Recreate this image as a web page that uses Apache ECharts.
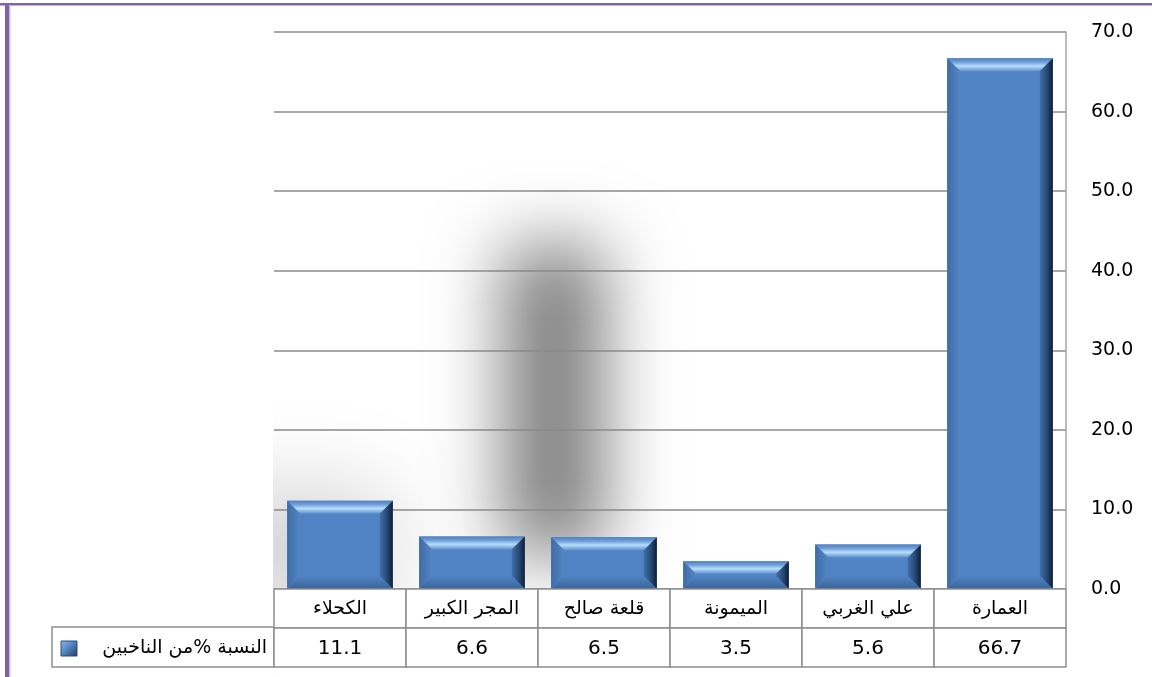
<!DOCTYPE html>
<html>
<head>
<meta charset="utf-8">
<script src="https://cdn.jsdelivr.net/npm/echarts@6/dist/echarts.min.js"></script>
<style>
html,body{margin:0;padding:0;background:#fff;}
#chart{width:1152px;height:677px;}
</style>
</head>
<body>
<div id="chart"></div>
<script>
// Data (displayed left to right)
const categories = ['الكحلاء', 'المجر الكبير', 'قلعة صالح', 'الميمونة', 'علي الغربي', 'العمارة'];
const values = [11.1, 6.6, 6.5, 3.5, 5.6, 66.7];
const seriesName = 'النسبة %من الناخبين';
const yTicks = [0, 10, 20, 30, 40, 50, 60, 70];

const FONT = 'DejaVu Sans';

const tableData = [];
categories.forEach((c, i) => {
  tableData.push([i, 0, c]);
  tableData.push([i, 1, values[i].toFixed(1)]);
});

function bevel(params, api) {
  const v = api.value(1);
  const top = api.coord([api.value(0), v]);
  const base = api.coord([api.value(0), 0]);
  const w = api.size([1, 0])[0] * 0.8;
  const x = top[0] - w / 2, y = top[1], h = base[1] - top[1];
  const b = Math.min(13, h / 2.2);
  const x2 = x + w, y2 = y + h;
  return {
    type: 'group',
    children: [
      { type: 'polygon', shape: { points: [[x, y], [x2, y], [x2 - b, y + b], [x + b, y + b]] },
        style: { fill: { type: 'linear', x: 0, y: 0, x2: 0, y2: 1, colorStops: [
          { offset: 0, color: '#4f80bf' }, { offset: 0.3, color: '#6f9fd9' }, { offset: 0.6, color: '#b8ddfb' }, { offset: 1, color: '#5f91d0' }] } } },
      { type: 'polygon', shape: { points: [[x2, y], [x2, y2], [x2 - b, y2 - b], [x2 - b, y + b]] },
        style: { fill: { type: 'linear', x: 0, y: 0, x2: 1, y2: 0, colorStops: [
          { offset: 0, color: '#416fa8' }, { offset: 0.5, color: '#2a4d7c' }, { offset: 1, color: '#0f1e33' }] } } },
      { type: 'polygon', shape: { points: [[x, y], [x + b, y + b], [x + b, y2 - b], [x, y2]] },
        style: { fill: { type: 'linear', x: 0, y: 0, x2: 1, y2: 0, colorStops: [
          { offset: 0, color: '#3f6ca6' }, { offset: 1, color: '#5486c6' }] } } },
      { type: 'polygon', shape: { points: [[x, y2], [x + b, y2 - b], [x2 - b, y2 - b], [x2, y2]] },
        style: { fill: { type: 'linear', x: 0, y: 0, x2: 0, y2: 1, colorStops: [
          { offset: 0, color: '#5083c3' }, { offset: 1, color: '#3a6398' }] } } }
    ]
  };
}

function cell(params, api) {
  const c = api.coord([api.value(0), api.value(1)]);
  const s = api.size([1, 1]);
  const isVal = api.value(1) === 1;
  return {
    type: 'group',
    children: [
      { type: 'rect', shape: { x: c[0] - s[0] / 2, y: c[1] - s[1] / 2, width: s[0], height: s[1] },
        style: { fill: '#fff', stroke: '#8f8f8f', lineWidth: 1.5 } },
      { type: 'text', x: c[0], y: c[1] + 1,
        style: { text: tableData[params.dataIndex][2], fill: '#000', font: (isVal ? '20px ' : '19px ') + FONT,
          align: 'center', verticalAlign: 'middle' } }
    ]
  };
}

const chart = echarts.init(document.getElementById('chart'));
chart.setOption({
  animation: false,
  backgroundColor: '#fff',
  grid: [
    { left: 274, right: 86, top: 32, bottom: 88 },
    { left: 274, right: 86, top: 589, height: 78 }
  ],
  xAxis: [
    { type: 'category', data: categories, gridIndex: 0, axisLine: { show: false }, axisTick: { show: false }, axisLabel: { show: false } },
    { type: 'category', data: categories, gridIndex: 1, axisLine: { show: false }, axisTick: { show: false }, axisLabel: { show: false } }
  ],
  yAxis: [
    { type: 'value', gridIndex: 0, position: 'right', min: 0, max: 70, interval: 10,
      axisLine: { show: true, lineStyle: { color: '#a6a6a6', width: 1.5 } },
      axisTick: { show: false },
      splitLine: { show: true, lineStyle: { color: '#8a8a8a', width: 1.5 } },
      axisLabel: { margin: 25, color: '#000', fontSize: 19, fontFamily: FONT,
        formatter: v => yTicks.includes(v) ? v.toFixed(1) : '' } },
    { type: 'category', gridIndex: 1, data: ['c', 'v'], inverse: true, show: false }
  ],
  graphic: [
    // soft grey shadow blob behind the plot
    { type: 'rect', z: -10, silent: true, shape: { x: 505 - 3000, y: 245, width: 98, height: 310 },
      style: { fill: '#000', shadowBlur: 72, shadowColor: 'rgba(0,0,0,0.52)', shadowOffsetX: 3000 } },
    // lower-left haze
    { type: 'rect', z: -10, silent: true, shape: { x: 200 - 3000, y: 490, width: 190, height: 120 },
      style: { fill: '#000', shadowBlur: 90, shadowColor: 'rgba(0,0,0,0.18)', shadowOffsetX: 3000 } },
    // white paper outside plot (masks haze spill)
    { type: 'rect', z: -9, silent: true, shape: { x: 10, y: 300, width: 263, height: 377 }, style: { fill: '#fff' } },
    { type: 'rect', z: -9, silent: true, shape: { x: 274, y: 589, width: 800, height: 88 }, style: { fill: '#fff' } },
    // purple frame
    { type: 'rect', silent: true, shape: { x: 0, y: 3, width: 1152, height: 2.5 }, style: { fill: '#8064a2' } },
    { type: 'rect', silent: true, shape: { x: 5, y: 3, width: 4, height: 674 }, style: { fill: '#8064a2' } },
    { type: 'rect', silent: true, shape: { x: 9, y: 5, width: 1.5, height: 672 }, style: { fill: '#cbbfe0' } },
    // legend cell
    { type: 'rect', silent: true, shape: { x: 52, y: 627, width: 222, height: 40 },
      style: { fill: '#fff', stroke: '#8f8f8f', lineWidth: 1.5 } },
    { type: 'rect', silent: true, shape: { x: 61, y: 641, width: 16, height: 15 },
      style: { fill: { type: 'linear', x: 0, y: 0, x2: 1, y2: 1, colorStops: [
        { offset: 0, color: '#8bb9ea' }, { offset: 0.5, color: '#4f81bd' }, { offset: 1, color: '#1d3557' }] },
        stroke: '#2c4d7a', lineWidth: 1 } },
    { type: 'text', silent: true, x: 267, y: 648,
      style: { text: seriesName, fill: '#000', font: '19px ' + FONT, align: 'right', verticalAlign: 'middle' } }
  ],
  series: [
    { type: 'bar', name: seriesName, data: values, xAxisIndex: 0, yAxisIndex: 0, barCategoryGap: '20%',
      itemStyle: { color: '#5184c4' }, z: 2 },
    { type: 'custom', data: values.map((v, i) => [i, v]), xAxisIndex: 0, yAxisIndex: 0,
      renderItem: bevel, z: 3, silent: true },
    { type: 'custom', data: tableData.map(d => [d[0], d[1]]), xAxisIndex: 1, yAxisIndex: 1,
      renderItem: cell, z: 3, silent: true }
  ]
});
</script>
</body>
</html>
